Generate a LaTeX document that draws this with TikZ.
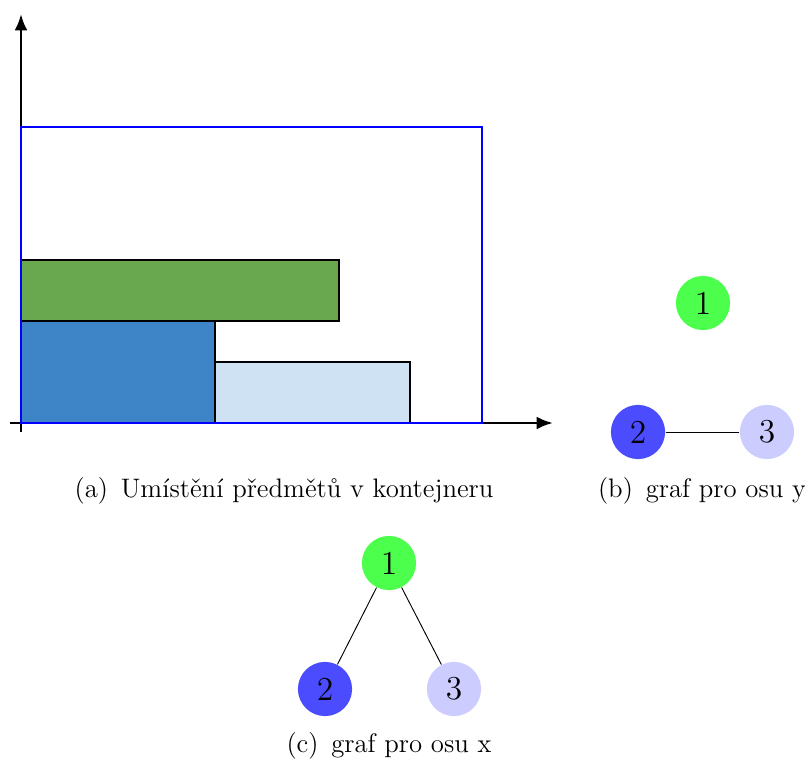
\documentclass[tikz,border=0pt]{standalone}
\usetikzlibrary{arrows.meta}
\definecolor{itemgreen}{HTML}{6AA84F}
\definecolor{itemblue}{HTML}{3D85C6}
\definecolor{itemlight}{HTML}{CFE2F3}
\newcommand{\subcap}[2]{(#1)\hspace{5.5pt}#2}
\begin{document}
\begin{tikzpicture}[x=0.43pt,y=-0.43pt,
  axis/.style={line width=1.15pt,-{Latex[length=7pt,width=5.5pt]}},
  item/.style={draw=black,line width=0.95pt},
  container/.style={draw=blue,line width=1.2pt},
  vertex/.style={circle,minimum size=23.3pt,inner sep=0pt,font=\fontsize{14.4}{17}\selectfont},
  edge/.style={line width=0.4pt},
  caption/.style={inner sep=0pt,font=\fontsize{11.5}{13.8}\selectfont}]
\useasboundingbox (0,0) rectangle (805,761);

% packing of the three items into the container
\filldraw[item,fill=itemgreen] (21,260) rectangle (339,321);
\filldraw[item,fill=itemblue] (21,321) rectangle (215,423);
\filldraw[item,fill=itemlight] (215,362) rectangle (410,423);
\coordinate (xs) at (10,423);
\coordinate (xe) at (553,423);
\coordinate (ys) at (21,432);
\coordinate (ye) at (21,14);
\draw[axis] (xs) -- (xe);
\draw[axis] (ys) -- (ye);
\draw[container] (21,127) rectangle (482,423);
\node[caption] (capa) at (284,491) {\subcap{a}{Umístění předmětů v kontejneru}};

% overlap graph along the y axis
\node[vertex,fill=green!70] (b1) at (703,303) {1};
\node[vertex,fill=blue!70] (b2) at (638,432) {2};
\node[vertex,fill=blue!20] (b3) at (767,432) {3};
\draw[edge] (b2) -- (b3);
\node[caption] (capb) at (702,491) {\subcap{b}{graf pro osu y}};

% overlap graph along the x axis
\node[vertex,fill=green!70] (c1) at (389,563) {1};
\node[vertex,fill=blue!70] (c2) at (325,689) {2};
\node[vertex,fill=blue!20] (c3) at (454,689) {3};
\draw[edge] (c1) -- (c2);
\draw[edge] (c1) -- (c3);
\node[caption] (capc) at (389,746) {\subcap{c}{graf pro osu x}};
\end{tikzpicture}
\end{document}
